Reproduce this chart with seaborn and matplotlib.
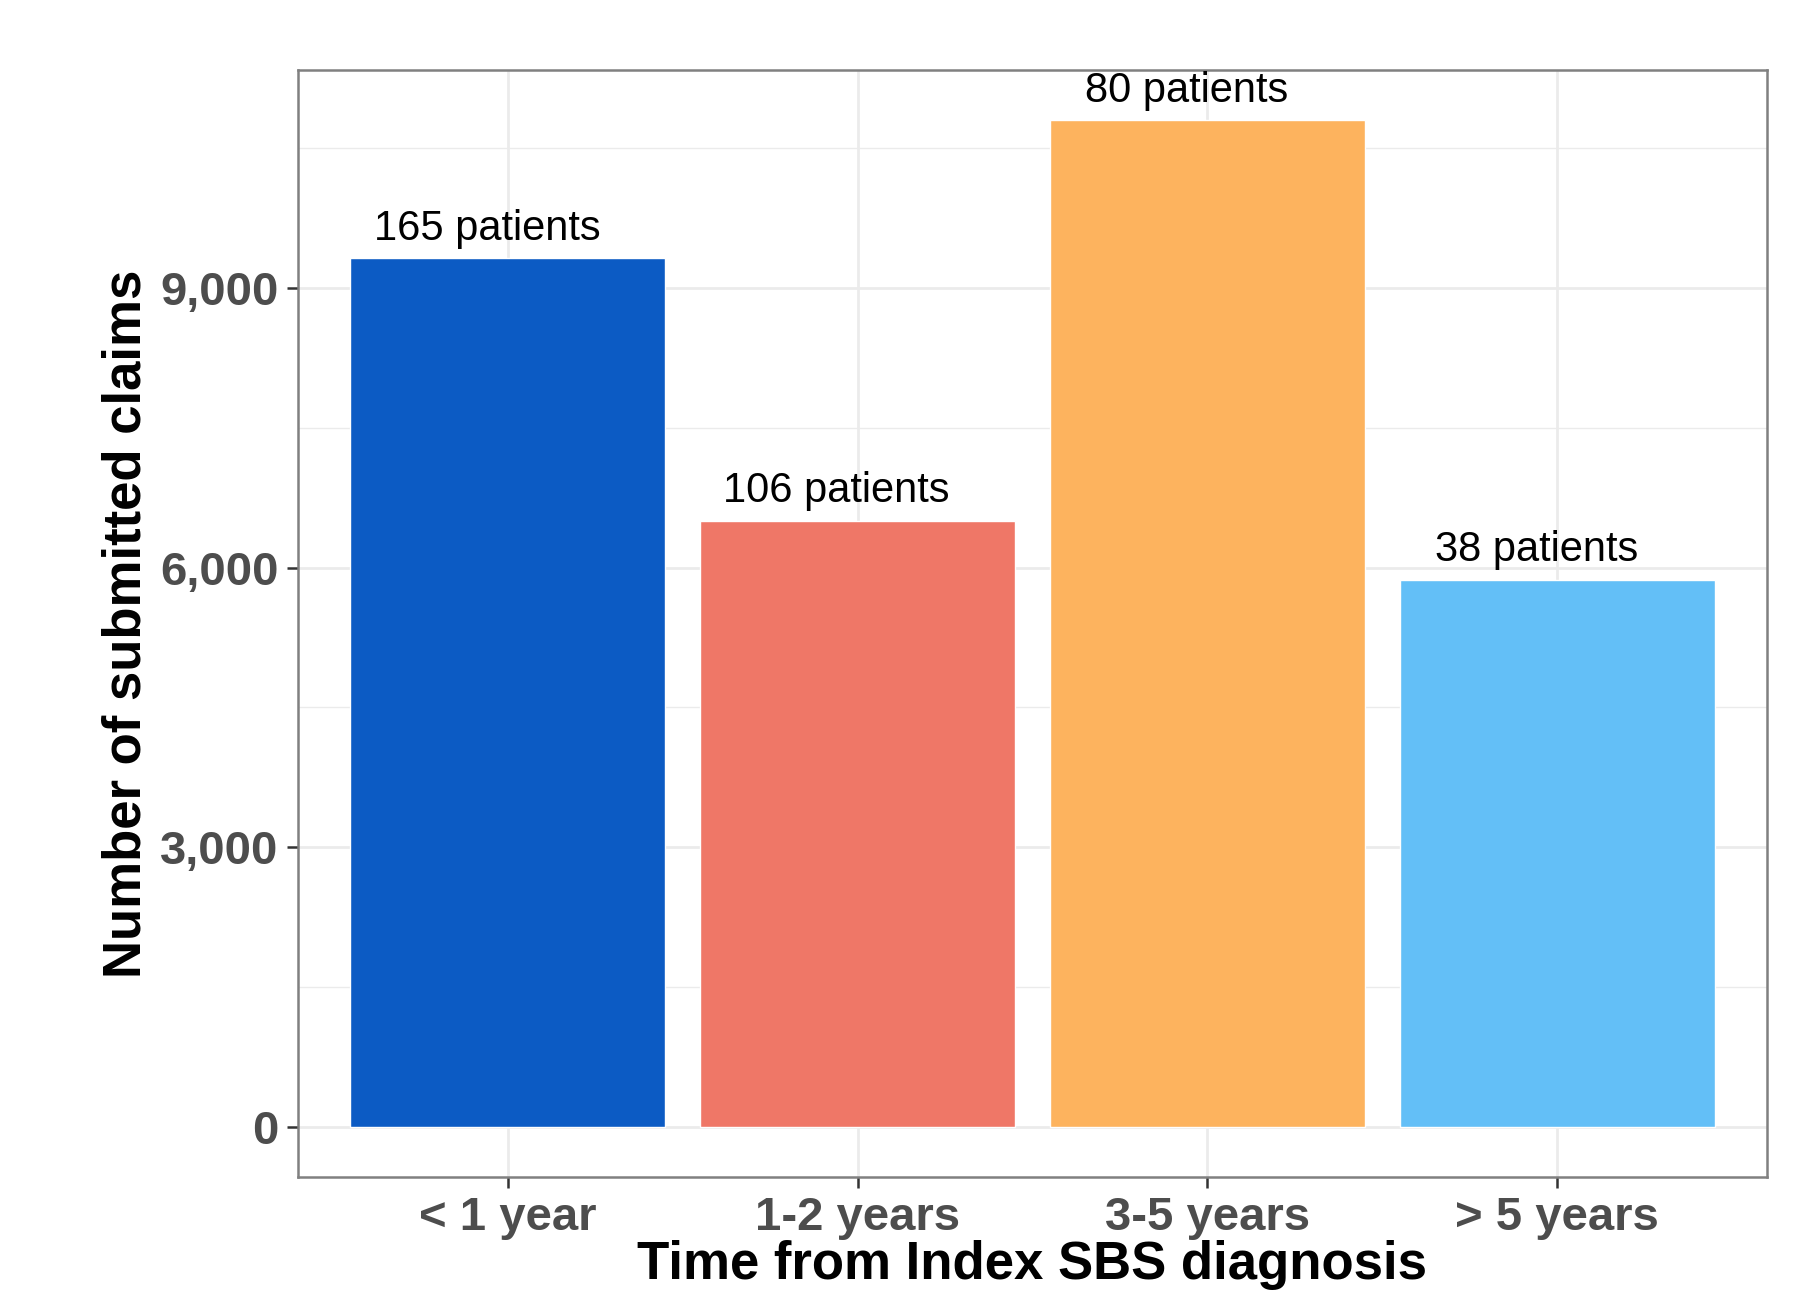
import seaborn as sns
import matplotlib.pyplot as plt
import matplotlib.ticker as mticker
import pandas as pd

# data
categories = ["< 1 year", "1-2 years", "3-5 years", "> 5 years"]
claims = [9320, 6500, 10800, 5870]
patient_labels = ["165 patients", "106 patients", "80 patients", "38 patients"]
bar_colors = ["#0c5bc4", "#ef7767", "#fdb35e", "#63bff7"]

df = pd.DataFrame({"period": categories, "claims": claims})

sns.set_theme(style="white")
plt.rcParams['font.family'] = ['Liberation Sans', 'DejaVu Sans']

fig = plt.figure(figsize=(17.97, 12.90), dpi=100)
ax = fig.add_axes([0.1658, 0.0876, 0.8175, 0.8581])

sns.barplot(data=df, x="period", y="claims", hue="period", palette=bar_colors,
            width=0.9, saturation=1, legend=False, ax=ax, zorder=3)

# ggplot style limits (5% / 0.6 expansion)
ymax = max(claims)
ax.set_ylim(-0.05 * ymax, 1.05 * ymax)
ax.set_xlim(-0.6, len(categories) - 0.4)

ax.yaxis.set_major_locator(mticker.MultipleLocator(3000))
ax.yaxis.set_minor_locator(mticker.MultipleLocator(1500))
ax.yaxis.set_major_formatter(mticker.FuncFormatter(lambda v, p: f"{int(v):,}"))
ax.grid(which="major", color="#ebebeb", linewidth=2.0, zorder=0)
ax.grid(which="minor", axis="y", color="#ebebeb", linewidth=1.0, zorder=0)
ax.set_axisbelow(True)

for s in ax.spines.values():
    s.set_color("#808080")
    s.set_linewidth(1.8)

ax.tick_params(axis="both", which="major", length=8, width=1.8, color="#333333",
               labelsize=34, labelcolor="#4d4d4d", pad=6, bottom=True, left=True)
ax.tick_params(axis="y", which="minor", length=0)
for lab in ax.get_xticklabels() + ax.get_yticklabels():
    lab.set_fontweight("bold")

ax.set_xlabel("Time from Index SBS diagnosis", fontsize=38, fontweight="bold",
              color="black", labelpad=0)
ax.set_ylabel("Number of submitted claims", fontsize=38, fontweight="bold",
              color="black", labelpad=6)

for i, (v, lab) in enumerate(zip(claims, patient_labels)):
    ax.annotate(lab, xy=(i - 0.06, v), xytext=(0, 7), textcoords="offset points",
                ha="center", va="bottom", fontsize=30, color="black", zorder=5)

fig.savefig("out.png", dpi=100)
